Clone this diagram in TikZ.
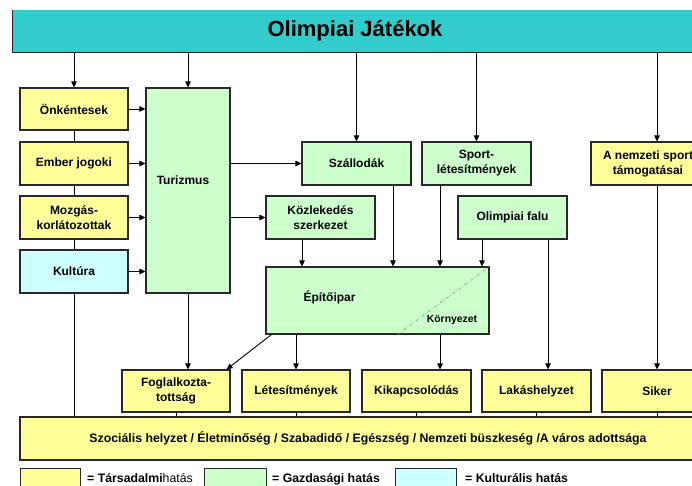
\documentclass[tikz,border=0pt]{standalone}
\usepackage{fontspec}
\setmainfont{Liberation Sans}
\usetikzlibrary{arrows.meta,positioning,calc}
\definecolor{tealbar}{RGB}{51,204,204}
\definecolor{socyellow}{RGB}{255,255,153}
\definecolor{ecogreen}{RGB}{204,255,204}
\definecolor{culcyan}{RGB}{204,255,255}
\definecolor{edgegray}{RGB}{40,40,40}
\tikzstyle{box}=[draw=edgegray,line width=1.1pt,inner sep=1pt,align=center,font=\bfseries\fontsize{12}{15}\selectfont,minimum height=43pt]
\tikzstyle{social}=[box,fill=socyellow]
\tikzstyle{econ}=[box,fill=ecogreen]
\tikzstyle{cult}=[box,fill=culcyan]
\tikzstyle{arr}=[-{Triangle[length=6pt,width=5.5pt]},line width=0.9pt]
\tikzstyle{link}=[line width=0.9pt]
\tikzstyle{legendtext}=[anchor=west,inner sep=0pt,font=\fontsize{12.3}{14}\selectfont]

\begin{document}
\begin{tikzpicture}[x=1pt,y=-1pt]
\useasboundingbox (0,0) rectangle (692,486);
\clip (0,0) rectangle (692,486);
% title bar
\node [fill=tealbar,minimum width=684pt,minimum height=42pt,inner sep=0pt,
  font=\bfseries\fontsize{22}{26}\selectfont] (olymp) at (355,31) {Olimpiai Játékok};
\draw [edgegray,line width=1.1pt] (olymp.north west) -- (olymp.south west) -- (olymp.south east);
% left column
\node [social,minimum width=108pt,minimum height=42pt] (onk) at (74,109) {Önkéntesek};
\node [social,minimum width=108pt] (ember) at (74,163.5) {Ember jogoki};
\node [social,minimum width=108pt] (mozg) at (74,217.5) {Mozgás-\\korlátozottak};
\node [cult,minimum width=108pt] (kult) at (74,271.5) {Kultúra};
\node [econ,minimum width=84pt,minimum height=205pt] (turizmus) at (188,190.5) {Turizmus\hspace*{10pt}\\[5pt]};
% middle
\node [econ,minimum width=109pt] (szall) at (356.5,163.5) {Szállodák};
\node [econ,minimum width=109pt] (kozl) at (320.5,217.5) {Közlekedés\\szerkezet};
\node [econ,minimum width=109pt] (sport) at (476.5,163.5) {Sport-\\létesítmények};
\node [econ,minimum width=109pt] (falu) at (512.5,217.5) {Olimpiai falu};
\node [social,minimum width=114pt] (nemzet) at (648,163.5) {A nemzeti sport\\támogatásai};
\node [econ,minimum width=223pt,minimum height=67pt,
  label={[xshift=-48pt,yshift=3pt,font=\bfseries\fontsize{12}{15}\selectfont]center:Építőipar},
  label={[xshift=74.5pt,yshift=-19.5pt,font=\bfseries\fontsize{10.4}{12}\selectfont]center:Környezet}] (epito) at (377.5,300.5) {};
\draw [gray,line width=0.5pt,dash pattern=on 3pt off 2pt on 0.6pt off 2pt] ([xshift=132pt]epito.south west) -- (epito.north east);
% lower row
\node [social,minimum width=108pt,minimum height=42pt] (fogl) at (176,391) {Foglalkozta-\\tottság};
\node [social,minimum width=108pt,minimum height=42pt] (letes) at (296,391) {Létesítmények};
\node [social,minimum width=109pt,minimum height=42pt] (kikap) at (416.5,391) {Kikapcsolódás};
\node [social,minimum width=109pt,minimum height=42pt] (lakas) at (536.5,391) {Lakáshelyzet};
\node [social,minimum width=110pt,minimum height=42pt] (siker) at (657,391) {Siker};
\node [social,minimum width=696pt,font=\bfseries\fontsize{12.3}{15}\selectfont] (szoc) at (368,438.5)
  {Szociális helyzet / Életminőség / Szabadidő / Egészség / Nemzeti büszkeség /A város adottsága};
% legend
\node [social,minimum width=60pt,minimum height=24pt,anchor=north west] (legsoc) at (20,468) {};
\node [econ,minimum width=62pt,minimum height=24pt,anchor=north west] (legeco) at (204,468) {};
\node [cult,minimum width=61pt,minimum height=24pt,anchor=north west] (legcul) at (395,468) {};
\node [legendtext] (txtsoc) at (87,478) {\textbf{= Társadalmi}hatás};
\node [legendtext] (txteco) at (272,479) {\textbf{= Gazdasági hatás}};
\node [legendtext] (txtcul) at (465,478) {\textbf{= Kulturális hatás}};
% arrows from the title
\draw [arr] (onk.north |- olymp.south) -- (onk.north);
\draw [arr] (turizmus.north |- olymp.south) -- (turizmus.north);
\draw [arr] (szall.north |- olymp.south) -- (szall.north);
\draw [arr] (sport.north |- olymp.south) -- (sport.north);
\draw [arr] ([xshift=9pt]nemzet.north |- olymp.south) -- ([xshift=9pt]nemzet.north);
% left column links
\draw [link] (onk) -- (ember);
\draw [link] (ember) -- (mozg);
\draw [link] (mozg) -- (kult);
\draw [link] (kult.south) -- (kult.south |- szoc.north);
\foreach \src in {onk,ember,mozg,kult}
  \draw [arr] (\src.east) -- (\src.east -| turizmus.west);
% from turizmus
\draw [arr] (szall.west -| turizmus.east) -- (szall.west);
\draw [arr] (kozl.west -| turizmus.east) -- (kozl.west);
\draw [arr] (turizmus.south) -- (turizmus.south |- fogl.north);
% into epitoipar
\draw [arr] ([xshift=-18.5pt]kozl.south) -- ([xshift=-18.5pt]kozl.south |- epito.north);
\draw [arr] ([xshift=36.5pt]szall.south) -- ([xshift=36.5pt]szall.south |- epito.north);
\draw [arr] ([xshift=-36.5pt]sport.south) -- ([xshift=-36.5pt]sport.south |- epito.north);
\draw [arr] ([xshift=-30.5pt]falu.south) -- ([xshift=-30.5pt]falu.south |- epito.north);
% out of epitoipar
\draw [arr] ([xshift=6pt]epito.south west) -- ([xshift=-4pt]fogl.north east);
\draw [arr] (letes.north |- epito.south) -- (letes.north);
\draw [arr] ([xshift=23.5pt]kikap.north |- epito.south) -- ([xshift=23.5pt]kikap.north);
\draw [arr] ([xshift=35.5pt]falu.south) -- ([xshift=35.5pt]falu.south |- lakas.north);
\draw [arr] ([xshift=9pt]nemzet.south) -- (siker.north);
% into the bottom bar
\foreach \src in {fogl,letes,kikap,lakas,siker}
  \draw [link] (\src.south) -- (\src.south |- szoc.north);
\end{tikzpicture}
\end{document}
